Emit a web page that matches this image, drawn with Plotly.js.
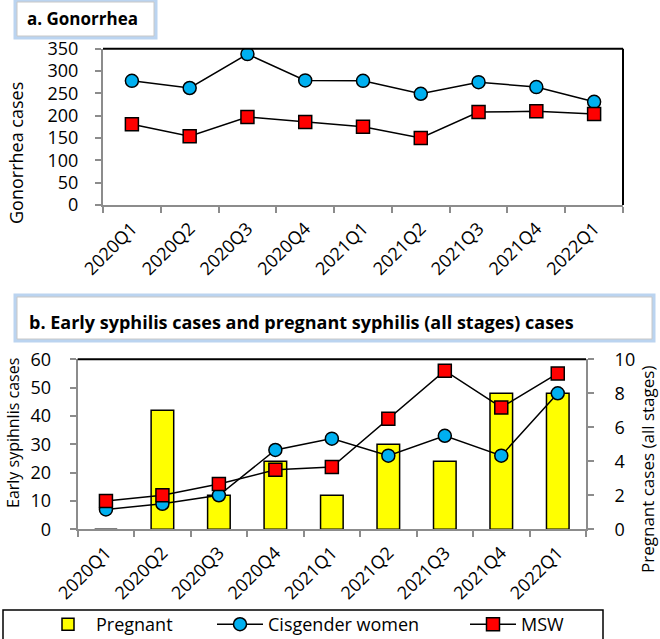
<!DOCTYPE html>
<html>
<head>
<meta charset="utf-8">
<script src="https://cdn.plot.ly/plotly-3.0.1.min.js"></script>
<style>html,body{margin:0;padding:0;background:#fff}#chart{width:660px;height:639px}</style>
</head>
<body>
<div id="chart"></div>
<script>
// ---- data ----
const quarters = ["2020Q1","2020Q2","2020Q3","2020Q4","2021Q1","2021Q2","2021Q3","2021Q4","2022Q1"];
const gonoCisWomen = [278, 262, 338, 279, 278, 249, 275, 264, 231];
const gonoMSW = [181, 154, 197, 186, 175, 150, 208, 210, 204];
const syphCisWomen = [7, 9, 12, 28, 32, 26, 33, 26, 48];
const syphMSW = [10, 12, 16, 21, 22, 39, 56, 43, 55];
const pregnant = [0, 7, 2, 4, 2, 5, 4, 8, 8];
const gonoTicks = [0, 50, 100, 150, 200, 250, 300, 350];

const W = 660, H = 639;
const px = v => v / W;
const py = v => 1 - v / H;

const FONT = "Open Sans, Liberation Sans, sans-serif";
const tickFont = {family: FONT, size: 18, color: "#000"};
const GRAY = "#8c8c8c";

const circleMarker = {symbol: "circle", size: 13, color: "#00B0F0", line: {color: "#000", width: 1.5}};
const squareMarker = {symbol: "square", size: 13, color: "#FF0000", line: {color: "#000", width: 1.5}};
const blackLine = {color: "#000", width: 1.5};

const traces = [
  {type: "scatter", mode: "lines+markers", x: quarters, y: gonoCisWomen, xaxis: "x", yaxis: "y",
   marker: circleMarker, line: blackLine, showlegend: false, name: "Cisgender women"},
  {type: "scatter", mode: "lines+markers", x: quarters, y: gonoMSW, xaxis: "x", yaxis: "y",
   marker: squareMarker, line: blackLine, showlegend: false, name: "MSW"},
  // bars on the right-hand (pregnant) axis, which is the base axis so lines overlay it
  {type: "bar", x: quarters, y: pregnant, xaxis: "x2", yaxis: "y2", name: "Pregnant", legend: "legend",
   marker: {color: "#FFFF00", line: {color: "#000", width: 1.5}}},
  {type: "scatter", mode: "lines+markers", x: quarters, y: syphCisWomen, xaxis: "x2", yaxis: "y3",
   marker: circleMarker, line: blackLine, name: "Cisgender women", legend: "legend2"},
  {type: "scatter", mode: "lines+markers", x: quarters, y: syphMSW, xaxis: "x2", yaxis: "y3",
   marker: squareMarker, line: blackLine, name: "MSW", legend: "legend3"}
];

const xCommon = {
  type: "category", range: [-0.5, 8.5], showline: true, linecolor: GRAY, linewidth: 2,
  ticks: "outside", tickson: "boundaries", ticklen: 6, tickcolor: GRAY, tickwidth: 2,
  tickangle: -45, tickfont: tickFont, showgrid: false, zeroline: false, automargin: false,
  ticklabelstandoff: 4, fixedrange: true, layer: "above traces"
};
const yCommon = {
  showline: true, linecolor: GRAY, linewidth: 2, ticks: "outside", ticklen: 6,
  tickcolor: GRAY, tickwidth: 2, tickfont: tickFont, showgrid: false, zeroline: false,
  automargin: false, ticklabelstandoff: 13, fixedrange: true
};

const legendBase = {
  orientation: "h", y: py(606), xanchor: "left", yanchor: "top",
  borderwidth: 0, bgcolor: "rgba(0,0,0,0)", itemwidth: 46,
  font: {family: FONT, size: 18, color: "#000"}
};

const layout = {
  width: W, height: H, margin: {l: 0, r: 0, t: 0, b: 0, autoexpand: false},
  paper_bgcolor: "#fff", plot_bgcolor: "rgba(0,0,0,0)",
  font: {family: FONT, color: "#000"},
  bargap: 0.6,
  xaxis: Object.assign({}, xCommon, {domain: [px(103), px(623)], anchor: "y"}),
  yaxis: Object.assign({}, yCommon, {domain: [py(205), py(48.7)], anchor: "x", range: [0, 350],
    tickvals: gonoTicks}),
  xaxis2: Object.assign({}, xCommon, {domain: [px(77.7), px(586)], anchor: "y2"}),
  yaxis2: Object.assign({}, yCommon, {domain: [py(529.3), py(359.3)], anchor: "x2", side: "right",
    range: [0, 10], dtick: 2, ticklabelstandoff: 17}),
  yaxis3: Object.assign({}, yCommon, {overlaying: "y2", side: "left", anchor: "x2", range: [0, 60], dtick: 10,
    ticklabelstandoff: 15}),
  showlegend: true,
  legend: Object.assign({}, legendBase, {x: px(40)}),
  legend2: Object.assign({}, legendBase, {x: px(212)}),
  legend3: Object.assign({}, legendBase, {x: px(465)}),
  shapes: [
    // top chart frame (top & right)
    {type: "line", xref: "x domain", yref: "y domain", x0: 0, x1: 1, y0: 1, y1: 1, line: {color: "#000", width: 2}},
    {type: "line", xref: "x domain", yref: "y domain", x0: 1, x1: 1, y0: 0, y1: 1, line: {color: "#000", width: 2}},
    // bottom chart top frame
    {type: "line", xref: "x2 domain", yref: "y2 domain", x0: 0, x1: 1, y0: 1, y1: 1, line: {color: "#000", width: 2}},
    // title box a (glow + box)
    {type: "rect", xref: "paper", yref: "paper", x0: px(17), x1: px(154), y0: py(36), y1: py(2),
     line: {color: "rgba(120,170,225,0.5)", width: 7}, fillcolor: "rgba(0,0,0,0)"},
    {type: "rect", xref: "paper", yref: "paper", x0: px(17), x1: px(154), y0: py(36), y1: py(2),
     line: {color: "#c8c8c8", width: 1}, fillcolor: "#fff"},
    // title box b
    {type: "rect", xref: "paper", yref: "paper", x0: px(17), x1: px(652), y0: py(339), y1: py(297),
     line: {color: "rgba(120,170,225,0.5)", width: 7}, fillcolor: "rgba(0,0,0,0)"},
    {type: "rect", xref: "paper", yref: "paper", x0: px(17), x1: px(652), y0: py(339), y1: py(297),
     line: {color: "#c8c8c8", width: 1}, fillcolor: "#fff"},
    // legend box
    {type: "rect", xref: "paper", yref: "paper", x0: px(3), x1: px(603), y0: py(645), y1: py(610),
     line: {color: "#000", width: 1.5}, fillcolor: "rgba(0,0,0,0)"}
  ],
  annotations: [
    {text: "<b>a. Gonorrhea</b>", xref: "paper", yref: "paper", x: px(25), y: py(19),
     xanchor: "left", yanchor: "middle", showarrow: false, font: {family: FONT, size: 17, color: "#000"}},
    {text: "<b>b. Early syphilis cases and pregnant syphilis (all stages) cases</b>", xref: "paper", yref: "paper",
     x: px(27), y: py(322), xanchor: "left", yanchor: "middle", showarrow: false,
     font: {family: FONT, size: 18, color: "#000"}},
    {text: "Gonorrhea cases", xref: "paper", yref: "paper", x: px(16), y: py(153), textangle: -90,
     xanchor: "center", yanchor: "middle", showarrow: false, font: {family: FONT, size: 18, color: "#000"}},
    {text: "Early sypihnlis cases", xref: "paper", yref: "paper", x: px(13), y: py(433), textangle: -90,
     xanchor: "center", yanchor: "middle", showarrow: false, font: {family: FONT, size: 16, color: "#000"}},
    {text: "Pregnant cases (all stages)", xref: "paper", yref: "paper", x: px(647), y: py(470), textangle: -90,
     xanchor: "center", yanchor: "middle", showarrow: false, font: {family: FONT, size: 17, color: "#000"}}
  ]
};

Plotly.newPlot("chart", traces, layout, {staticPlot: true, displayModeBar: false});
</script>
</body>
</html>
